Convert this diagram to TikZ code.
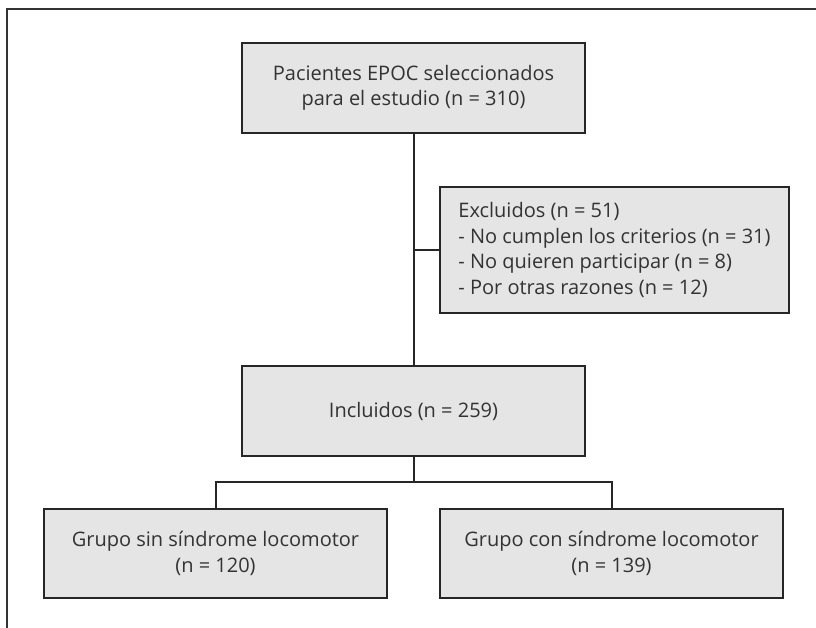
\documentclass[tikz,border=0pt]{standalone}
\usepackage{fontspec}
\setmainfont{Open Sans}
\usetikzlibrary{positioning}

\begin{document}
\begin{tikzpicture}[
  x=1pt, y=-1pt,
  caja/.style={draw=black!85, line width=1.8pt, fill=black!10!white, minimum width=343pt, minimum height=90pt, inner sep=4pt, align=center, text=black!80, font=\fontsize{20}{25.5}\selectfont},
  excl/.style={caja, minimum width=349pt, minimum height=126pt, align=left},
  fl/.style={draw=black!85, line width=2pt}
]
\useasboundingbox (0,0) rectangle (816,628);
% marco
\draw[black!80, line width=1.6pt] (7,628) -- (7,9) -- (816,9);
\node[caja] (sel) at (413.5,88) {Pacientes EPOC seleccionados\\para el estudio (n = 310)};
\node[excl] (exc) at (614.5,250) {Excluidos (n = 51)\\- No cumplen los criterios (n = 31)\\- No quieren participar (n = 8)\\- Por otras razones (n = 12)};
\node[caja] (inc) at (413.5,411) {Incluidos (n = 259)};
\node[caja, minimum height=89pt] (gsin) at (215.5,553.5) {Grupo sin síndrome locomotor\\(n = 120)};
\node[caja, minimum height=89pt] (gcon) at (611.5,553.5) {Grupo con síndrome locomotor\\(n = 139)};
\coordinate (rama) at (413.5,482);
\draw[fl] (sel) -- (inc);
\draw[fl] (sel.south |- exc.west) -- (exc.west);
\draw[fl] (inc) -- (rama);
\draw[fl] (gsin.north) |- (rama) -| (gcon.north);
\end{tikzpicture}
\end{document}
